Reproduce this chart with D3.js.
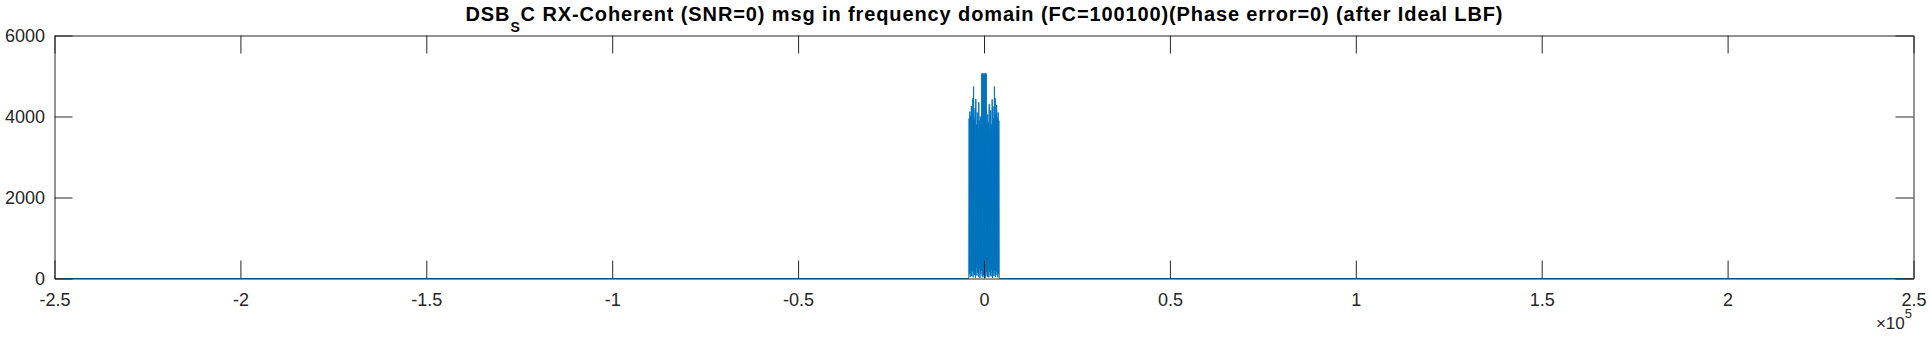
<!DOCTYPE html>
<html>
<head>
<meta charset="utf-8">
<script src="https://cdn.jsdelivr.net/npm/d3@7"></script>
<style>
	html, body { margin: 0; padding: 0; background: #fff; }
	svg { display: block; font-family: "Liberation Sans", Arial, sans-serif; }
</style>
</head>
<body>
<svg id="chart" width="1929" height="341"></svg>
<script>
// tick labels (x axis is shown in units of 1e5 Hz)
var xTicks = [-2.5, -2, -1.5, -1, -0.5, 0, 0.5, 1, 1.5, 2, 2.5];
var yTicks = [0, 2000, 4000, 6000];

// spectrum outside the message band (flat, ~0)
var outerHz = [-250000, -4100, 4100, 250000];
var outerMag = [0, 0, 0, 0];

// message band: local maxima of |X(f)|
var peakHz = [-4000, -3800, -3600, -3400, -3200, -3000, -2800, -2600, -2400, -2200,
	-2000, -1800, -1600, -1400, -1200, -1000, -800, -600, -400, -200,
	0, 200, 400, 600, 800, 1000, 1200, 1400, 1600, 1800,
	2000, 2200, 2400, 2600, 2800, 3000, 3200, 3400, 3600, 3800, 4000];
var peakMag = [3950, 4120, 4000, 4260, 4050, 4450, 4740, 3950, 4200, 4430,
	3800, 4100, 3700, 4350, 3900, 4000, 3750, 5060, 5060, 5060,
	5060, 5060, 5060, 5060, 3800, 4050, 3850, 4300, 3700, 4150,
	3800, 4420, 4250, 3950, 4740, 4450, 4080, 4280, 3980, 4100, 3900];

// message band: local minima between the maxima
var valleyHz = [-3900, -3700, -3500, -3300, -3100, -2900, -2700, -2500, -2300, -2100,
	-1900, -1700, -1500, -1300, -1100, -900, -700, -500, -300, -100,
	100, 300, 500, 700, 900, 1100, 1300, 1500, 1700, 1900,
	2100, 2300, 2500, 2700, 2900, 3100, 3300, 3500, 3700, 3900];
var valleyMag = [120, 40, 210, 60, 180, 30, 150, 90, 20, 260,
	70, 140, 50, 230, 10, 110, 190, 60, 30, 80,
	90, 20, 70, 170, 40, 240, 30, 160, 80, 50,
	220, 10, 130, 60, 190, 40, 170, 90, 30, 110];

var title = "DSB";
var titleSub = "S";
var titleRest = "C RX-Coherent (SNR=0) msg in frequency domain (FC=100100)(Phase error=0) (after Ideal LBF)";

var AXIS_COLOR = "#262626";
var LINE_COLOR = "#0072BD";

// plot box (window.top is read-only, so use prefixed names)
var boxLeft = 54.5, boxRight = 1913.5, boxTop = 35.5, boxBottom = 278.5;
var tickLen = 18;

var svg = d3.select("#chart");

var x = d3.scaleLinear().domain([-250000, 250000]).range([boxLeft, boxRight]);
var y = d3.scaleLinear().domain([0, 6000]).range([boxBottom, boxTop]);

// merge all samples into one line, ordered by frequency
var points = [];
outerHz.forEach(function(f, i) { points.push([f, outerMag[i]]); });
peakHz.forEach(function(f, i) { points.push([f, peakMag[i]]); });
valleyHz.forEach(function(f, i) { points.push([f, valleyMag[i]]); });
points.sort(function(a, b) { return a[0] - b[0]; });

var line = d3.line()
	.x(function(d) { return x(d[0]); })
	.y(function(d) { return y(d[1]); });

svg.append("path")
	.datum(points)
	.attr("d", line)
	.attr("fill", "none")
	.attr("stroke", LINE_COLOR)
	.attr("stroke-width", 1);

// axes: MATLAB style, ticks pointing inward on all four sides
var xTickVals = xTicks.map(function(t) { return t * 1e5; });

svg.append("g")
	.attr("transform", "translate(0," + boxBottom + ")")
	.call(d3.axisBottom(x).tickValues(xTickVals).tickSizeInner(-tickLen).tickSizeOuter(0).tickPadding(15)
		.tickFormat(function(d) { return String(d / 1e5); }))
	.call(styleAxis);

svg.append("g")
	.attr("transform", "translate(0," + boxTop + ")")
	.call(d3.axisTop(x).tickValues(xTickVals).tickSizeInner(-tickLen).tickSizeOuter(0).tickFormat(""))
	.call(styleAxis);

svg.append("g")
	.attr("transform", "translate(" + boxLeft + ",0)")
	.call(d3.axisLeft(y).tickValues(yTicks).tickSizeInner(-tickLen).tickSizeOuter(0).tickPadding(9.5)
		.tickFormat(function(d) { return String(d); }))
	.call(styleAxis);

svg.append("g")
	.attr("transform", "translate(" + boxRight + ",0)")
	.call(d3.axisRight(y).tickValues(yTicks).tickSizeInner(-tickLen).tickSizeOuter(0).tickFormat(""))
	.call(styleAxis);

function styleAxis(g) {
	g.select(".domain").attr("stroke", AXIS_COLOR).attr("stroke-width", 1);
	g.selectAll(".tick line").attr("stroke", AXIS_COLOR).attr("stroke-width", 1);
	g.selectAll(".tick text")
		.attr("fill", AXIS_COLOR)
		.style("font-size", "18px")
		.style("font-family", "'Liberation Sans', Arial, sans-serif");
}

// exponent label
var expo = svg.append("text")
	.attr("x", 1912)
	.attr("y", 329)
	.attr("text-anchor", "end")
	.attr("fill", AXIS_COLOR)
	.style("font-size", "17px");
expo.append("tspan").text("\u00d710");
expo.append("tspan").attr("dy", -11).style("font-size", "13px").text("5");

// title with subscript
var t = svg.append("text")
	.attr("x", (boxLeft + boxRight) / 2)
	.attr("y", 21)
	.attr("text-anchor", "middle")
	.attr("fill", "#000")
	.attr("textLength", 1037)
	.attr("lengthAdjust", "spacing")
	.style("font-size", "20px")
	.style("font-weight", "bold");
t.append("tspan").text(title);
t.append("tspan").attr("dy", 11).style("font-size", "14px").text(titleSub);
t.append("tspan").attr("dy", -11).text(titleRest);
</script>
</body>
</html>
